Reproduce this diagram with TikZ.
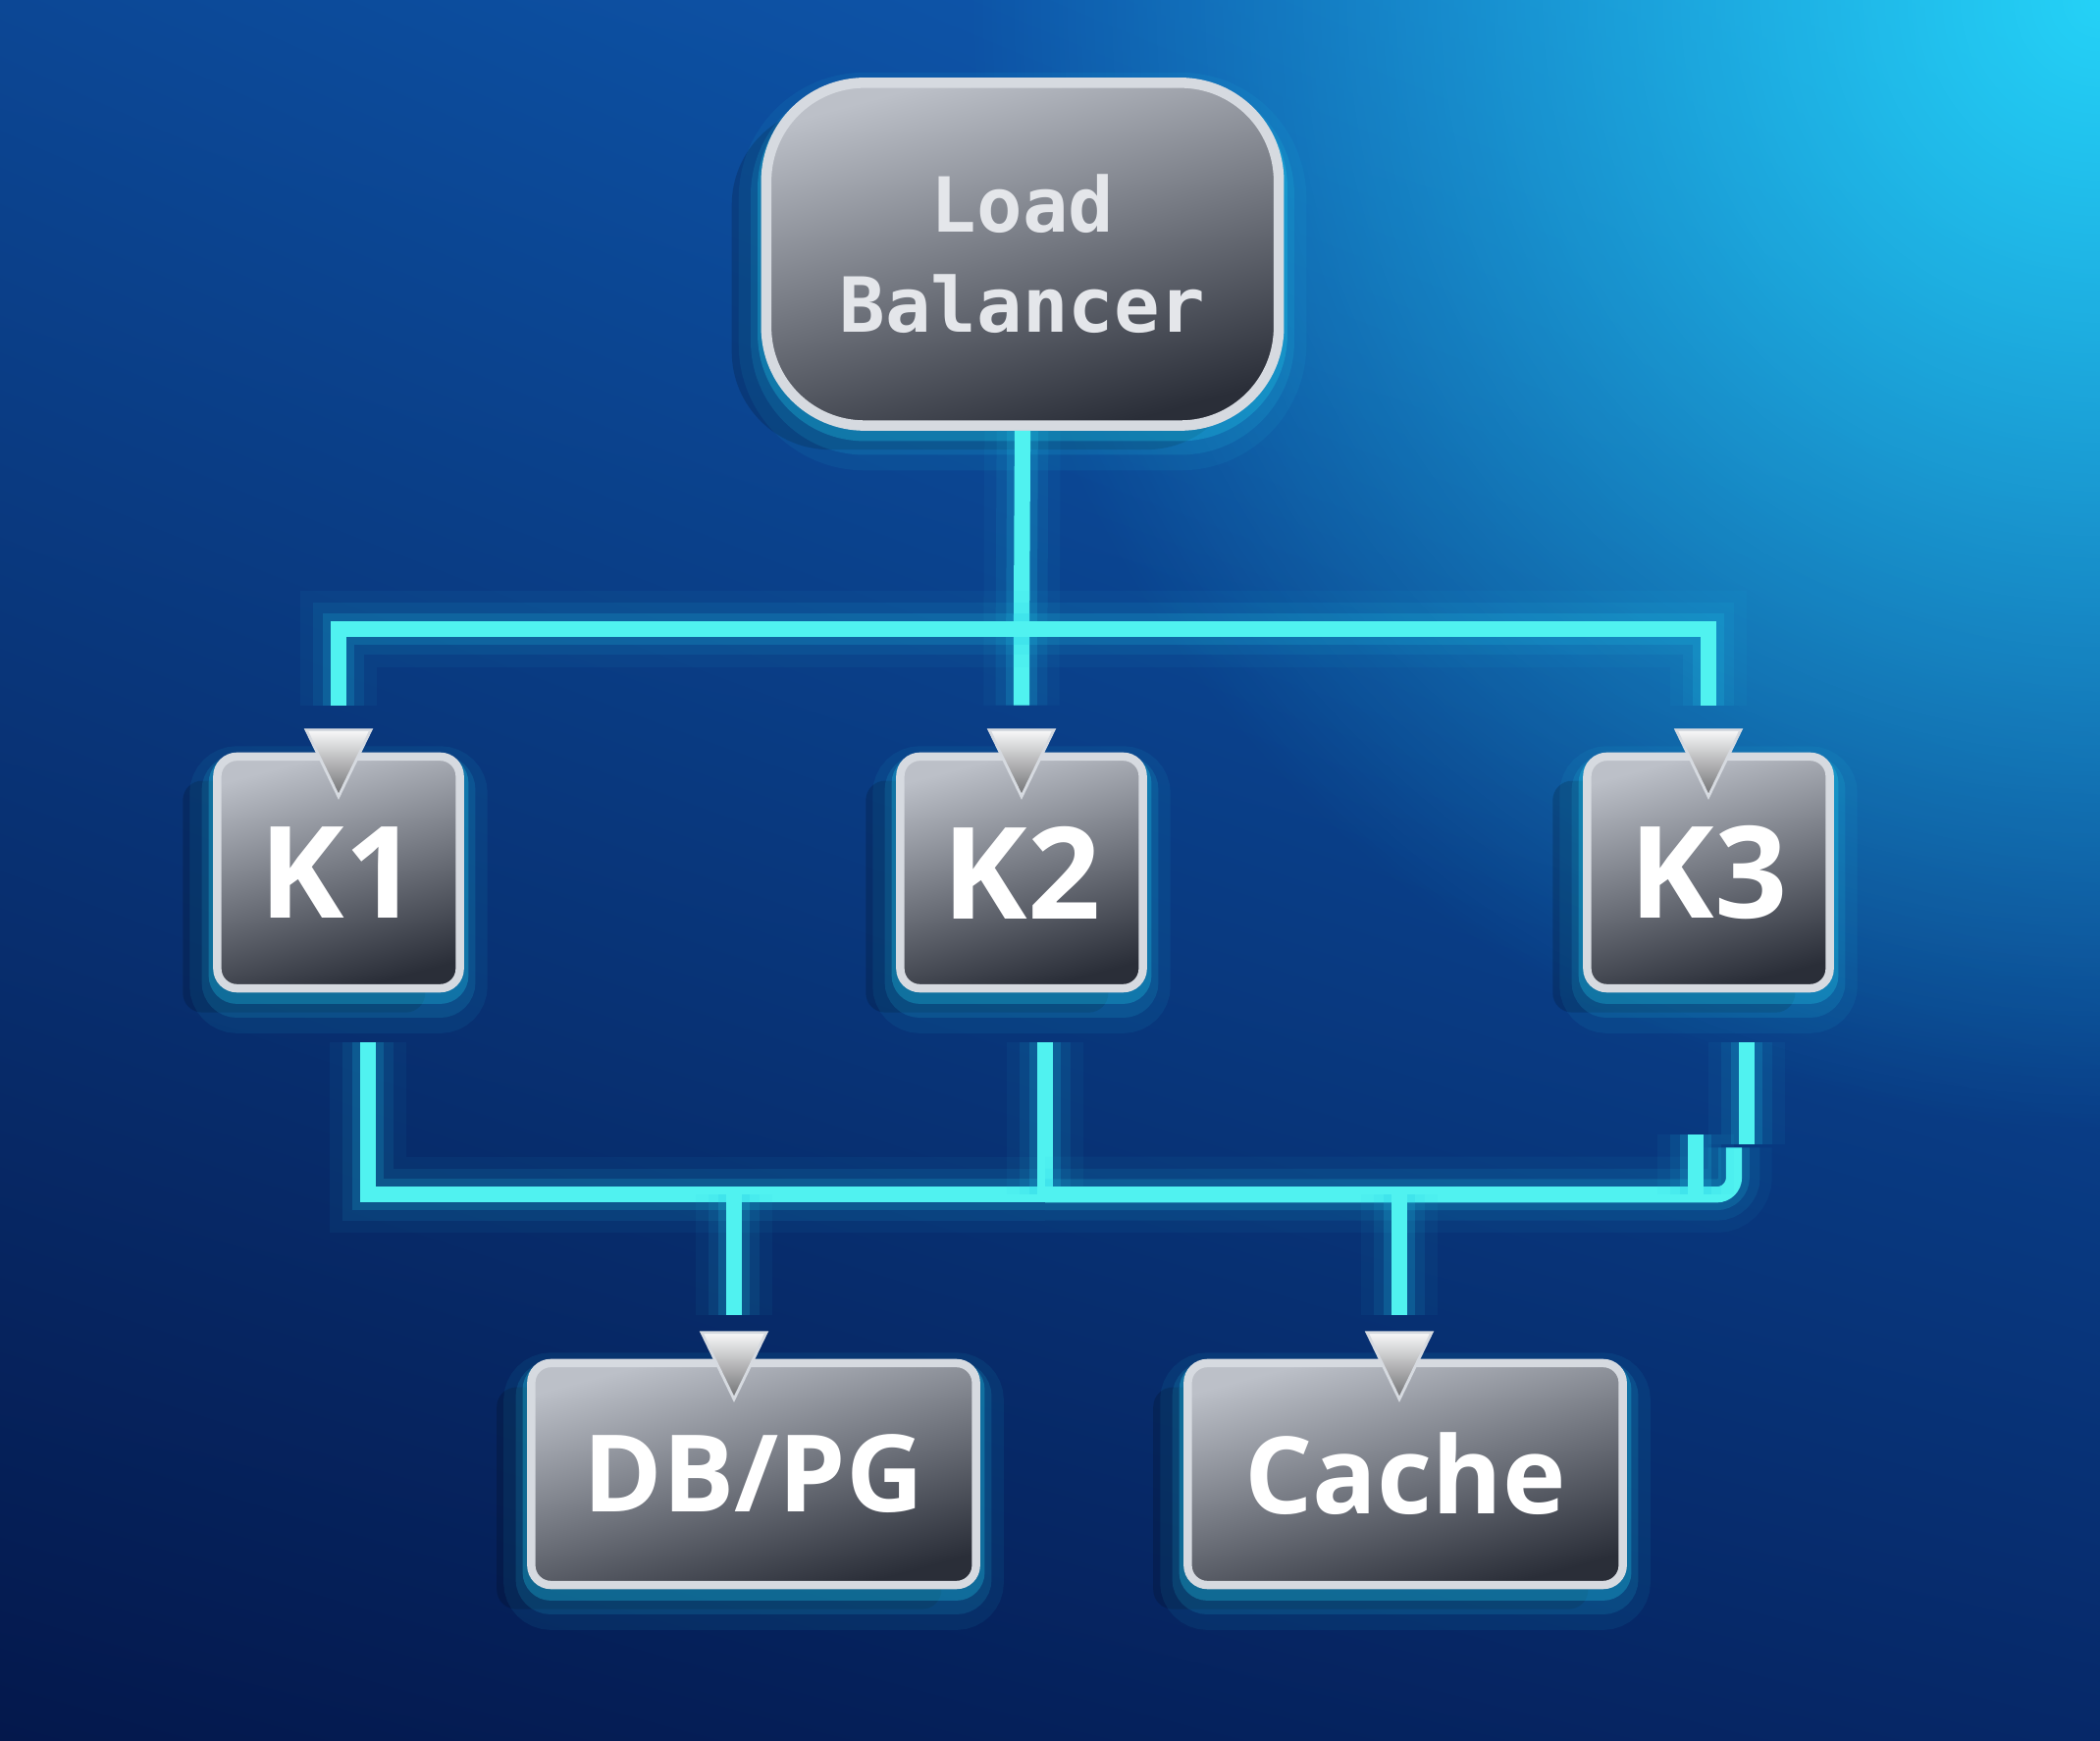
\documentclass[tikz,border=0pt]{standalone}
\usepackage{fontspec}
\setmonofont{DejaVu Sans Mono}
\newfontfamily\labelfont{Open Sans}
\usetikzlibrary{positioning,calc,fadings,shadings}
\definecolor{navy}{HTML}{04184C}
\definecolor{deepblue}{HTML}{0C4795}
\definecolor{midblue}{HTML}{0E62BC}
\definecolor{lowblue}{HTML}{062868}
\definecolor{skyglow}{HTML}{26D8FA}
\definecolor{wire}{HTML}{50F2F0}
\definecolor{wireglow}{HTML}{1FC8E8}
\definecolor{steel}{HTML}{BCC0C8}
\definecolor{slate}{HTML}{2A2E38}
\definecolor{rim}{HTML}{D6DAE0}
\definecolor{lbtext}{HTML}{E4E6EA}
\tikzfading[name=softglow,inner color=transparent!0,outer color=transparent!100]

\begin{document}
\begin{tikzpicture}[x=0.01cm,y=0.01cm,
    halo/.style={preaction={fill=black,fill opacity=.16,
                   transform canvas={shift={(-10pt,-7pt)}}},
                 preaction={draw=wireglow,line width=16pt,draw opacity=.08,
                   transform canvas={yshift=-5pt}},
                 preaction={draw=wireglow,line width=9pt,draw opacity=.14,
                   transform canvas={yshift=-4pt}},
                 preaction={draw=wireglow,line width=5pt,draw opacity=.3,
                   transform canvas={yshift=-2pt}}},
    panel/.style={halo,draw=rim,line width=2.4pt,rounded corners=0.2cm,
                  top color=steel,bottom color=slate,shading angle=15,
                  text=white,inner sep=0pt,
                  font=\labelfont\bfseries\fontsize{37}{40}\selectfont},
    store/.style={panel,minimum width=4.5cm,minimum height=2.26cm,
                  font=\labelfont\bfseries\fontsize{31}{36}\selectfont},
    wire/.style={draw=wire,line width=4.6pt,
                 preaction={draw=wireglow,line width=22pt,draw opacity=.05},
                 preaction={draw=wireglow,line width=15pt,draw opacity=.09},
                 preaction={draw=wireglow,line width=9pt,draw opacity=.18}},
    pointer/.pic={\shade[top color=white!90!steel,bottom color=gray!80!slate,
                         draw=rim,line width=0.8pt]
                    (-33,0) -- (33,0) -- (0,-68) -- cycle;}]

  % backdrop
  \useasboundingbox (0,0) rectangle (2140,1773);
  \shade[upper left=deepblue,upper right=midblue,
         lower left=navy,lower right=lowblue] (0,0) rectangle (2140,1773);
  \fill[skyglow,path fading=softglow,fill opacity=.95] (2140,1773) circle (1150);

  % nodes
  \node[panel,minimum width=5.22cm,minimum height=3.49cm,rounded corners=1cm,
        line width=3pt,text=lbtext,align=center,
        font=\ttfamily\bfseries\fontsize{22}{29}\selectfont] (lb) at (1042,1514)
        {Load\\Balancer};
  \node[panel,minimum width=2.47cm,minimum height=2.36cm] (k1) at (345,884) {K1};
  \node[panel,minimum width=2.47cm,minimum height=2.36cm] (k2) at (1041,884) {K2};
  \node[panel,minimum width=2.47cm,minimum height=2.36cm] (k3) at (1741,884) {K3};
  \node[store,minimum width=4.53cm] (db) at (768,271) {DB/PG};
  \node[store,minimum width=4.43cm] (cache) at (1432,271) {Cache};

  % entry points
  \coordinate (k1in) at ($(k1.north)+(0,23)$);
  \coordinate (k2in) at ($(k2.north)+(0,23)$);
  \coordinate (k3in) at ($(k3.north)+(0,23)$);
  \coordinate (dbin) at ($(db.north)+(-20,27)$);
  \coordinate (cachein) at ($(cache.north)+(-6,27)$);
  \coordinate (hub) at ($(lb.south)+(-1,-202)$);
  \coordinate (bus) at ($(k2.south)+(24,-206)$);
  \coordinate (stub) at ($(k3.south)+(-13,-145)$);

  % upper tree
  \draw[wire] (lb.south) -- (hub) -- ($(k2in)+(0,25)$);
  \draw[wire] ($(k1in)+(0,25)$) |- (hub) -| ($(k3in)+(0,25)$);

  % lower tree
  \draw[wire] ($(k1.south)+(30,-51)$) |- (bus);
  \draw[wire] ($(k2.south)+(24,-51)$) -- (bus);
  \draw[wire,rounded corners=5pt] (bus) -| ($(k3.south)+(26,-158)$);
  \draw[wire] ($(k3.south)+(39,-51)$) -- ($(k3.south)+(39,-155)$);
  \draw[wire] (stub) -- (stub |- bus);
  \draw[wire] (dbin |- bus) -- ($(dbin)+(0,18)$);
  \draw[wire] (cachein |- bus) -- ($(cachein)+(0,18)$);

  % arrow heads
  \foreach \p in {k1in,k2in,k3in,dbin,cachein}
    \pic at (\p) {pointer};
\end{tikzpicture}
\end{document}
